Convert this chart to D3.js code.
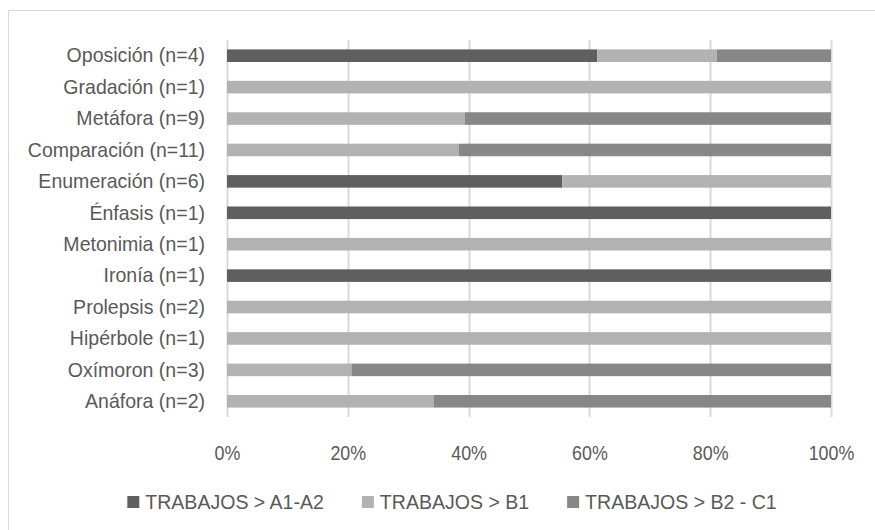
<!DOCTYPE html>
<html>
<head>
<meta charset="utf-8">
<script src="https://cdn.jsdelivr.net/npm/d3@7"></script>
<style>
  html, body { margin: 0; padding: 0; background: #ffffff; }
  svg { display: block; }
  text { font-family: "Liberation Sans", Arial, sans-serif; fill: #595959; }
</style>
</head>
<body>
<svg id="chart" width="875" height="530"></svg>
<script>
// Figure categories, top to bottom
const categories = [
  "Oposición (n=4)", "Gradación (n=1)", "Metáfora (n=9)", "Comparación (n=11)",
  "Enumeración (n=6)", "Énfasis (n=1)", "Metonimia (n=1)", "Ironía (n=1)",
  "Prolepsis (n=2)", "Hipérbole (n=1)", "Oxímoron (n=3)", "Anáfora (n=2)"
];
// Share of each level (percent), same order as categories
const a1a2 = [61.3, 0, 0, 0, 55.5, 100, 0, 100, 0, 0, 0, 0];
const b1   = [19.8, 100, 39.4, 38.4, 44.5, 0, 100, 0, 100, 100, 20.6, 34.2];
const b2c1 = [18.9, 0, 60.6, 61.6, 0, 0, 0, 0, 0, 0, 79.4, 65.8];
const seriesNames = ["TRABAJOS > A1-A2", "TRABAJOS > B1", "TRABAJOS > B2 - C1"];
const seriesColors = ["#5f5f5f", "#b2b2b2", "#878787"];
const tickValues = [0, 20, 40, 60, 80, 100];

const FONT_SIZE = 21;
const SQUEEZE = 0.93;        // slightly condensed lettering
const TICK_SQUEEZE = 0.85;   // percentage labels are a little narrower

const svg = d3.select("#chart");
const W = 875, H = 530;

// condense a text element horizontally, keeping its anchor; remembers the final width
function condense(sel, k = SQUEEZE) {
  sel.each(function () {
    const len = this.getComputedTextLength() * k;
    this.__width = len;
    d3.select(this).attr("textLength", len).attr("lengthAdjust", "spacingAndGlyphs");
  });
}

// outer frame of the chart area (continues past the right and bottom edges)
svg.append("rect").attr("x", 8.5).attr("y", 10.5).attr("width", W + 10).attr("height", H + 10)
  .attr("fill", "none").attr("stroke", "#d9d9d9").attr("stroke-width", 1);

const plot = { left: 227, right: 831, top: 40, bottom: 417 };

const x = d3.scaleLinear().domain([0, 100]).range([plot.left, plot.right]);
const y = d3.scaleBand().domain(categories).range([plot.top, plot.bottom]).paddingInner(0.6).paddingOuter(0.3);

// vertical gridlines
svg.append("g").selectAll("line").data(tickValues).join("line")
  .attr("x1", d => Math.round(x(d)) + 0.5).attr("x2", d => Math.round(x(d)) + 0.5)
  .attr("y1", plot.top).attr("y2", plot.bottom)
  .attr("stroke", "#d9d9d9").attr("stroke-width", 2);

// stacked bars
const rows = categories.map((c, i) => ({ cat: c, s0: a1a2[i], s1: b1[i], s2: b2c1[i] }));
const stack = d3.stack().keys(["s0", "s1", "s2"])(rows);

svg.append("g").selectAll("g").data(stack).join("g")
  .attr("fill", (d, i) => seriesColors[i])
  .selectAll("rect").data(d => d.filter(p => p[1] - p[0] > 0)).join("rect")
  .attr("x", d => x(d[0]))
  .attr("width", d => x(d[1]) - x(d[0]))
  .attr("y", d => y(d.data.cat))
  .attr("height", y.bandwidth());

// category labels
const yAxis = d3.axisLeft(y).tickSize(0).tickPadding(22);
const gy = svg.append("g").attr("transform", `translate(${plot.left},0)`).call(yAxis);
gy.select(".domain").remove();
gy.attr("font-family", null).attr("font-size", null);
gy.selectAll("text").attr("font-size", FONT_SIZE).style("fill", "#595959").call(condense);

// percentage axis
const xAxis = d3.axisBottom(x).tickValues(tickValues).tickSize(0).tickPadding(28).tickFormat(d => d + "%");
const gx = svg.append("g").attr("transform", `translate(0,${plot.bottom})`).call(xAxis);
gx.select(".domain").remove();
gx.attr("font-family", null).attr("font-size", null);
gx.selectAll("text").attr("font-size", FONT_SIZE).style("fill", "#595959").call(condense, TICK_SQUEEZE);

// legend, laid out left to right and centred under the chart
const SWATCH = 12, SWATCH_GAP = 6, ITEM_GAP = 38;
const legend = svg.append("g");
const items = legend.selectAll("g").data(seriesNames).join("g");
items.append("rect").attr("x", 0).attr("y", -6).attr("width", SWATCH).attr("height", SWATCH)
  .attr("fill", (d, i) => seriesColors[i]);
items.append("text").attr("x", SWATCH + SWATCH_GAP).attr("y", 0).attr("dy", "0.35em")
  .attr("font-size", FONT_SIZE).text(d => d).call(condense);
const offsets = [];
let cursor = 0;
items.each(function () {
  offsets.push(cursor);
  cursor += SWATCH + SWATCH_GAP + d3.select(this).select("text").node().__width + ITEM_GAP;
});
const legendWidth = cursor - ITEM_GAP;
const legendLeft = 452 - legendWidth / 2;
items.attr("transform", (d, i) => `translate(${legendLeft + offsets[i]},502)`);
</script>
</body>
</html>
